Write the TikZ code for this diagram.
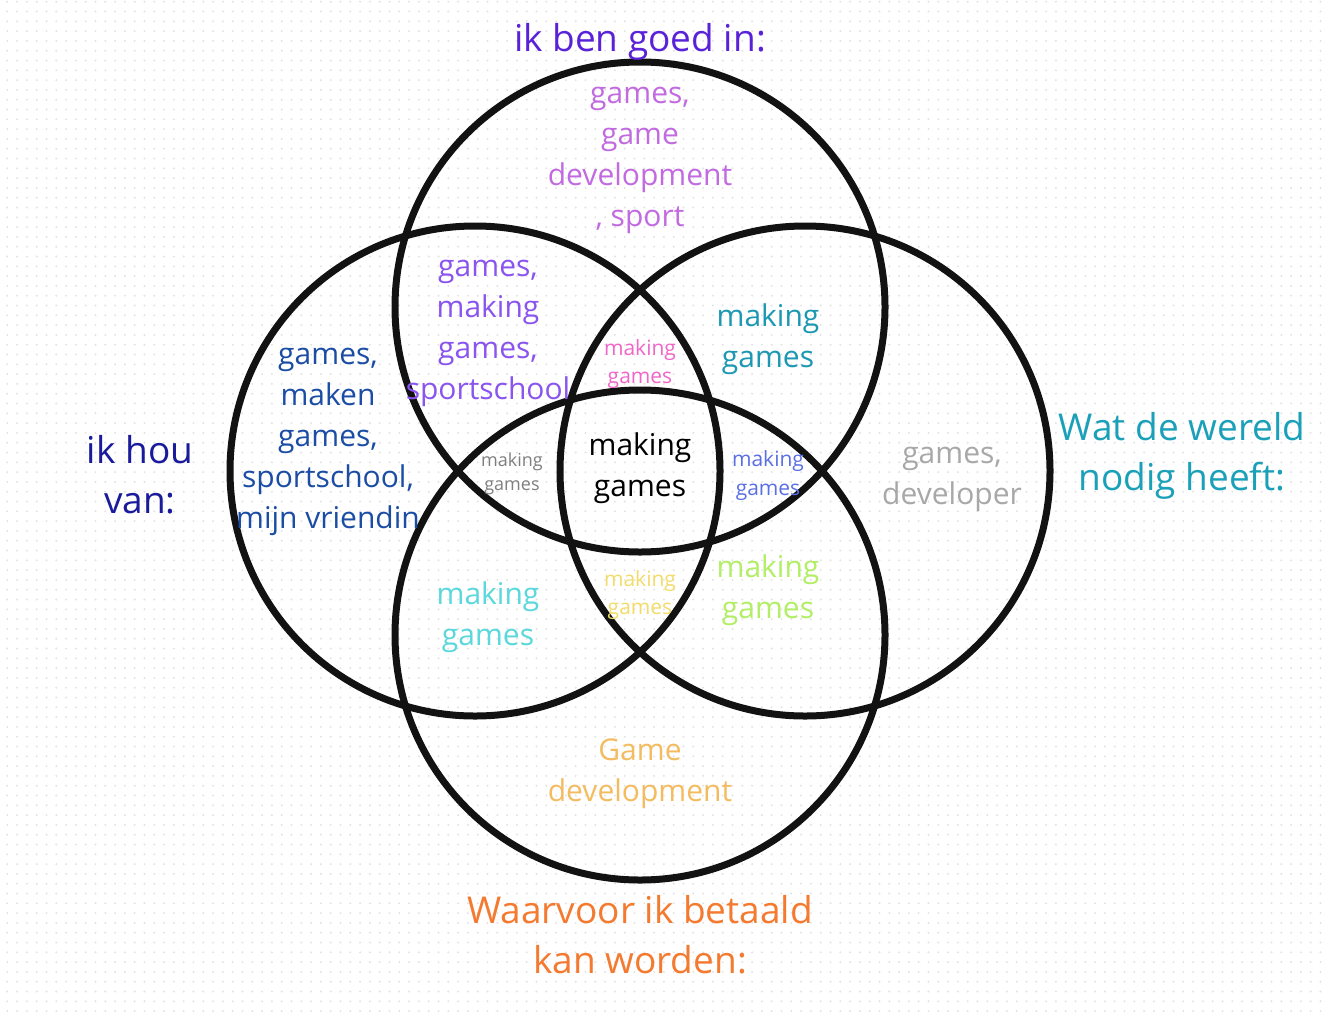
\documentclass[tikz,border=0pt]{standalone}
\usepackage{fontspec}
\setmainfont{Open Sans}

\definecolor{goedcol}{HTML}{5A22D8}
\definecolor{topcol}{HTML}{C26BE0}
\definecolor{tlcol}{HTML}{8A55EE}
\definecolor{trcol}{HTML}{1C98B3}
\definecolor{pinkcol}{HTML}{F066C8}
\definecolor{leftcol}{HTML}{1C4DA5}
\definecolor{houcol}{HTML}{1A1A9C}
\definecolor{graycol}{HTML}{7F7F7F}
\definecolor{bluecol}{HTML}{5A6FE3}
\definecolor{rightcol}{HTML}{A8A8A8}
\definecolor{wereldcol}{HTML}{1AA0B8}
\definecolor{cyancol}{HTML}{5AD8DC}
\definecolor{yellowcol}{HTML}{F2DC6A}
\definecolor{greencol}{HTML}{B2EE66}
\definecolor{bottomcol}{HTML}{F4BC60}
\definecolor{betaaldcol}{HTML}{F47A30}

\begin{document}
\begin{tikzpicture}[x=1pt, y=-1pt,
  title/.style={align=center, inner sep=0pt, font=\fontsize{37}{50}\selectfont},
  region/.style={align=center, inner sep=0pt, font=\fontsize{30}{41}\selectfont},
  small/.style={align=center, inner sep=0pt, font=\fontsize{21}{28.5}\selectfont},
  tiny/.style={align=center, inner sep=0pt, font=\fontsize{18}{24}\selectfont},
  ring/.style={line width=7pt, black!93}]

  \useasboundingbox (0,0) rectangle (1327,1015);
  \fill[white] (0,0) rectangle (1327,1015);

  % dotted grid
  \foreach \y in {1.7,11.5,...,1015}
    \draw[black!11, line width=2.2pt, line cap=round, dash pattern=on 0pt off 9.8pt] (7.3,\y) -- (1327,\y);

  \draw[ring] (640,307) circle [radius=245];
  \draw[ring] (475,471) circle [radius=245];
  \draw[ring] (805,471) circle [radius=245];
  \draw[ring] (640,635) circle [radius=245];

  \node[title, text=goedcol] (goed) at (640,42) {ik ben goed in:};
  \node[title, text=houcol] (houvan) at (140,475) {ik hou\\van:};
  \node[title, text=wereldcol] (wereld) at (1182,456) {Wat de wereld\\nodig heeft:};
  \node[title, text=betaaldcol] (betaald) at (640,935) {Waarvoor ik betaald\\kan worden:};

  \node[region, text=topcol] (goedtxt) at (640,160) {games,\\game\\development\\, sport};
  \node[region, text=leftcol] (houtxt) at (328,442) {games,\\maken\\games,\\sportschool,\\mijn vriendin};
  \node[region, text=rightcol] (wereldtxt) at (952,479) {games,\\developer};
  \node[region, text=bottomcol] (betaaldtxt) at (640,774) {Game\\development};

  \node[region, text=tlcol] (goedhou) at (488,333) {games,\\making\\games,\\sportschool};
  \node[region, text=trcol] (goedwereld) at (768,339) {making\\games};
  \node[region, text=cyancol] (houbetaald) at (488,617) {making\\games};
  \node[region, text=greencol] (wereldbetaald) at (768,590) {making\\games};

  \node[small, text=pinkcol] (nietbetaald) at (640,364) {making\\games};
  \node[tiny, text=graycol] (nietwereld) at (512,474) {making\\games};
  \node[small, text=bluecol] (niethou) at (768,475.5) {making\\games};
  \node[small, text=yellowcol] (nietgoed) at (640,595) {making\\games};

  \node[region, text=black] (alles) at (640,468) {making\\games};

\end{tikzpicture}
\end{document}
